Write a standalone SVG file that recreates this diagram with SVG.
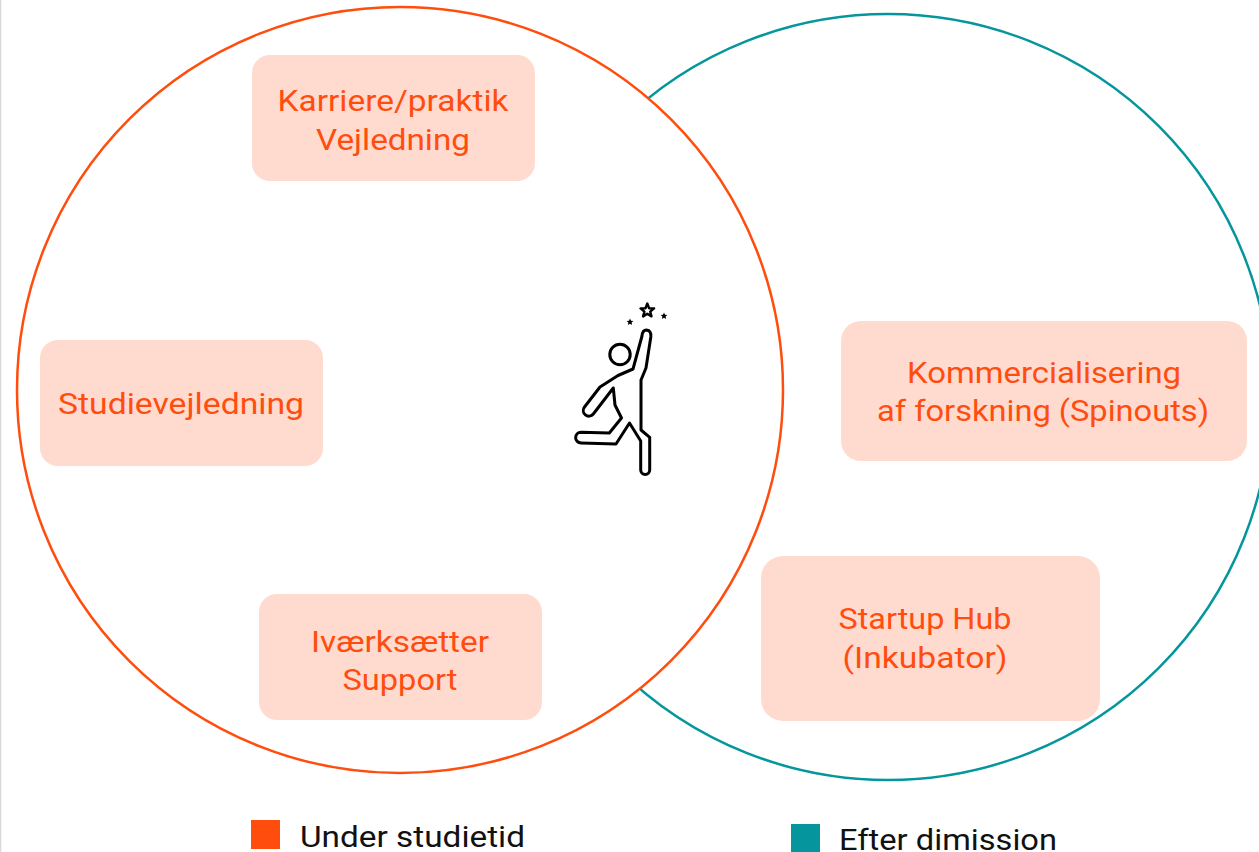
<svg xmlns="http://www.w3.org/2000/svg" width="1259" height="852" viewBox="0 0 1259 852">
<style>
.box{fill:#FFDBCF}
.lbl{font-family:Roboto,"Liberation Sans",sans-serif;font-size:30px;font-weight:400;fill:#FF4D0F;text-anchor:middle}
.leg{font-family:Roboto,"Liberation Sans",sans-serif;font-size:30px;font-weight:400;fill:#111}
</style>
<rect x="0" y="0" width="1259" height="852" fill="#fff"/>
<line x1="0.5" y1="0" x2="0.5" y2="852" stroke="#d9d9d9" stroke-width="1.5"/>
<g id="circles">
<circle id="efter-circle" cx="888" cy="397" r="383" fill="#fff" stroke="#04969C" stroke-width="2.5"/>
<circle id="under-circle" cx="400" cy="390" r="383" fill="#fff" stroke="#FF4D0D" stroke-width="2.5"/>
</g>
<g id="connectors"></g>
<g id="node-karriere">
<rect class="box" x="252" y="55" width="283" height="126" rx="18"/>
<text class="lbl" x="393" y="111" textLength="231" lengthAdjust="spacingAndGlyphs">Karriere/praktik</text>
<text class="lbl" x="393" y="150" textLength="154" lengthAdjust="spacingAndGlyphs">Vejledning</text>
</g>
<g id="node-studie">
<rect class="box" x="40" y="340" width="283" height="126" rx="18"/>
<text class="lbl" x="181" y="414" textLength="246" lengthAdjust="spacingAndGlyphs">Studievejledning</text>
</g>
<g id="node-ivaerk">
<rect class="box" x="259" y="594" width="283" height="126" rx="18"/>
<text class="lbl" x="400" y="652" textLength="178" lengthAdjust="spacingAndGlyphs">Iværksætter</text>
<text class="lbl" x="400" y="690" textLength="115" lengthAdjust="spacingAndGlyphs">Support</text>
</g>
<g id="node-kommerc">
<rect class="box" x="841" y="321" width="406" height="140" rx="20"/>
<text class="lbl" x="1044" y="383" textLength="274" lengthAdjust="spacingAndGlyphs">Kommercialisering</text>
<text class="lbl" x="1043" y="421" textLength="332" lengthAdjust="spacingAndGlyphs">af forskning (Spinouts)</text>
</g>
<g id="node-startup">
<rect class="box" x="761" y="556" width="339" height="165" rx="22"/>
<text class="lbl" x="925" y="629" textLength="173" lengthAdjust="spacingAndGlyphs">Startup Hub</text>
<text class="lbl" x="925" y="668" textLength="165" lengthAdjust="spacingAndGlyphs">(Inkubator)</text>
</g>
<g id="icon-person">
<path d="M646.5,330 Q651.5,330.5 650.8,337 L646,368 L641,380 L641,430 L649.7,437.3 L649.7,470 A4.5,4.5 0 0 1 640.7,470 L640.7,441 L629.5,423 L616,444 L581,443 A5.3,5.3 0 0 1 581,432.3 L609.3,433 L621.5,418 L615,405 L613.3,388 L593.3,414 A5,5 0 0 1 584.5,407 L600,387 L618,375.5 L633,369 L642,336 Q642.5,330 646.5,330 Z" fill="#fff" stroke="#000" stroke-width="3" stroke-linejoin="round"/>
<circle cx="620" cy="354.5" r="10.2" fill="#fff" stroke="#000" stroke-width="3"/>
<path d="M647.3,303.5 L649.1,308.2 L654.1,308.4 L650.2,311.6 L651.5,316.4 L647.3,313.7 L643.1,316.4 L644.4,311.6 L640.5,308.4 L645.5,308.2 Z" fill="#fff" stroke="#000" stroke-width="2.4" stroke-linejoin="round"/>
<path d="M630,318.5 L631,320.8 L633.4,321 L631.6,322.6 L632.1,325 L630,323.7 L627.9,325 L628.4,322.6 L626.6,321 L629,320.8 Z" fill="#000"/>
<path d="M664,312.5 L665,314.8 L667.4,315 L665.6,316.6 L666.1,319 L664,317.7 L661.9,319 L662.4,316.6 L660.6,315 L663,314.8 Z" fill="#000"/>
</g>
<g id="legend">
<rect x="251" y="820" width="29" height="29" fill="#FF4D0D"/>
<text class="leg" x="300" y="847" textLength="225" lengthAdjust="spacingAndGlyphs">Under studietid</text>
<rect x="791" y="824" width="29" height="29" fill="#04969C"/>
<text class="leg" x="839" y="849.5" textLength="218" lengthAdjust="spacingAndGlyphs">Efter dimission</text>
</g>
</svg>
